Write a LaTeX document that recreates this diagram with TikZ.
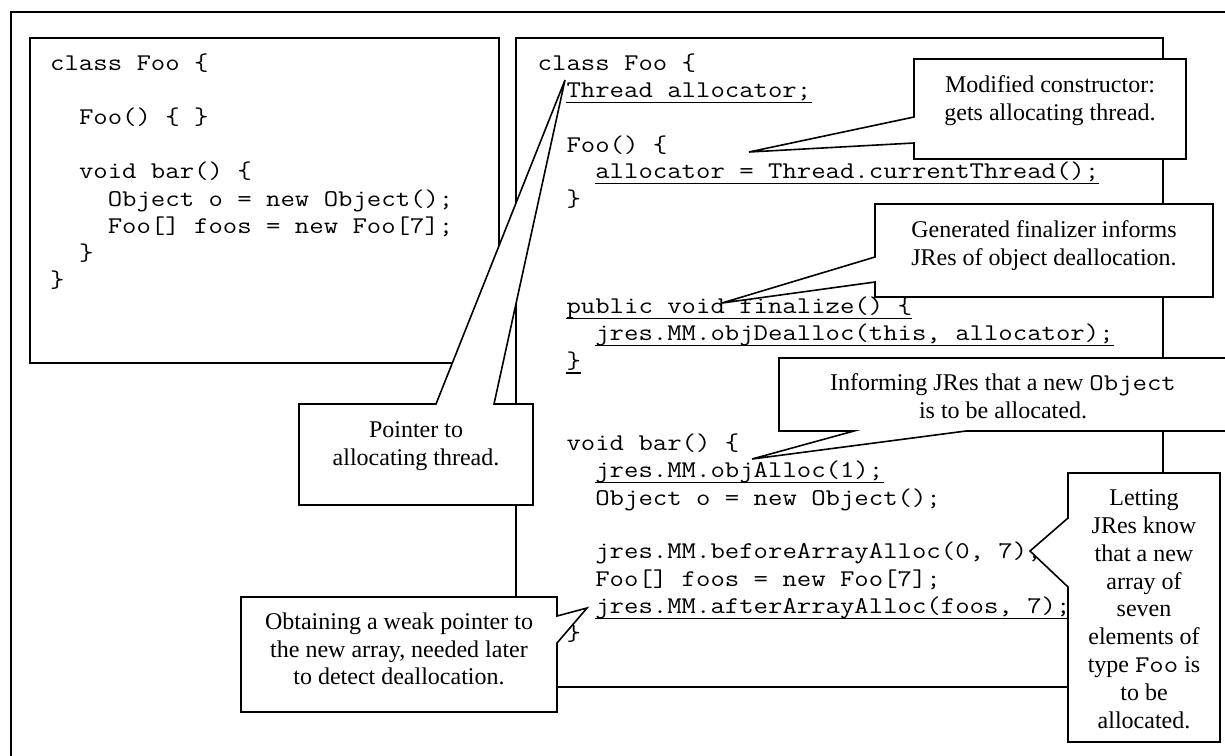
\documentclass[tikz,border=0pt]{standalone}
\usepackage{fontspec}
\setmainfont{Liberation Serif}
\setmonofont[FakeStretch=1.165]{Latin Modern Mono}
\tikzset{
  box/.style={draw=black, line width=1.6pt},
  callout/.style={draw=black, fill=white, line width=1.6pt},
  code/.style={anchor=base west, inner sep=0pt, font=\ttfamily\fontsize{24}{27.5}\selectfont},
  note/.style={anchor=north, inner sep=0pt, align=center, font=\rmfamily\fontsize{24}{27.8}\selectfont},
  uline/.style={draw=black, line width=1.1pt},
}
\newcommand\ulcode[1]{\draw[uline] ([yshift=-5pt]#1.base west) -- ([yshift=-5pt]#1.base east);}
\newcommand\stt{\rule{0pt}{20pt}}
\begin{document}
\begin{tikzpicture}[x=1pt,y=-1pt]
\useasboundingbox (0,0) rectangle (1225,755);
\clip (0,0) rectangle (1225,755);
\fill[white] (0,0) rectangle (1225,755);
% frames
\draw[box] (11,12) rectangle (1250,780);
\draw[box] (30,38) rectangle (499,363);
\draw[box] (516,38) rectangle (1163,687);
% left code
\node[code] (L1) at (50,70) {class Foo \{};
\node[code] (L2) at (78.8,124.4) {Foo() \{ \}};
\node[code] (L3) at (78.8,178.8) {void bar() \{};
\node[code] (L4) at (107.6,206) {Object o = new Object();};
\node[code] (L5) at (107.6,233.2) {Foo[] foos = new Foo[7];};
\node[code] (L6) at (78.8,260) {\}};
\node[code] (L7) at (50,287) {\}};
% right code
\node[code] (R1) at (537.5,70) {class Foo \{};
\node[code] (R2) at (566.3,97.3) {Thread allocator;};
\node[code] (R3) at (566.3,152.3) {Foo() \{};
\node[code] (R4) at (595.1,178.5) {allocator = Thread.currentThread();};
\node[code] (R5) at (566.3,206.5) {\}};
\node[code] (R6) at (566.3,313.5) {public void finalize() \{};
\node[code] (R7) at (595.1,340.5) {jres.MM.objDealloc(this, allocator);};
\node[code] (R8) at (566.3,368) {\}};
\node[code] (R9) at (566.3,450) {void bar() \{};
\node[code] (R10) at (595.1,477.5) {jres.MM.objAlloc(1);};
\node[code] (R11) at (595.1,505) {Object o = new Object();};
\node[code] (R12) at (595.1,558.5) {jres.MM.beforeArrayAlloc(0, 7);};
\node[code] (R13) at (595.1,586.5) {Foo[] foos = new Foo[7];};
\node[code] (R14) at (595.1,613.5) {jres.MM.afterArrayAlloc(foos, 7);};
\node[code] (R15) at (566.3,640) {\}};
\ulcode{R2}
\ulcode{R4}
\ulcode{R6}
\ulcode{R7}
\ulcode{R8}
\ulcode{R10}
\ulcode{R14}
% callout 1
\draw[callout] (914,59) -- (1186,59) -- (1186,159) -- (914,159) -- (914,143) -- (749,152) -- (914,117) -- cycle;
\node[note] (C1) at (1050,72) {\stt Modified constructor:\\gets allocating thread.};
% callout 2
\draw[callout] (875,204) -- (1213,204) -- (1213,297) -- (875,297) -- (875,282) -- (722,303) -- (875,257) -- cycle;
\node[note] (C2) at (1044,217) {\stt Generated finalizer informs\\JRes of object deallocation.};
% callout 3
\draw[callout] (779,358) -- (1240,358) -- (1240,431) -- (966,431) -- (752,459) -- (854,431) -- (779,431) -- cycle;
\node[note] (C3) at (1003,370.5) {\stt Informing JRes that a new \texttt{Object}\\is to be allocated.};
% callout 4
\draw[callout] (1068,473) -- (1220,473) -- (1220,742) -- (1068,742) -- (1068,587) -- (1030,551) -- (1068,518) -- cycle;
\node[note] (C4) at (1144,485.5) {\stt Letting\\JRes know\\that a new\\array of\\seven\\elements of\\type \texttt{Foo} is\\to be\\allocated.};
% callout 5
\draw[callout] (299,404) -- (436,404) -- (565,80) -- (494,404) -- (533,404) -- (533,505) -- (299,505) -- cycle;
\node[note] (C5) at (416,417) {\stt Pointer to\\allocating thread.};
% callout 6
\draw[callout] (241,597) -- (557,597) -- (557,616) -- (587,608) -- (557,643) -- (557,712) -- (241,712) -- cycle;
\node[note] (C6) at (399,609) {\stt Obtaining a weak pointer to\\the new array, needed later\\to detect deallocation.};
\end{tikzpicture}
\end{document}
